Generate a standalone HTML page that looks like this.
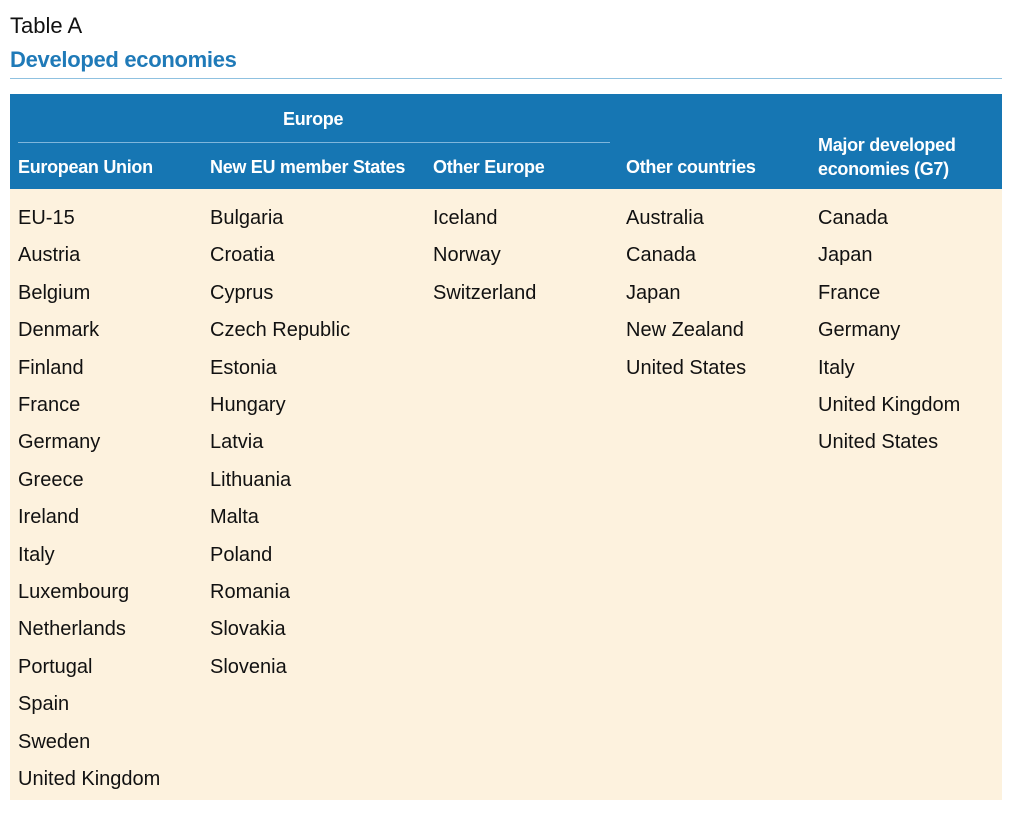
<!DOCTYPE html>
<html><head><meta charset="utf-8">
<style>
html,body{margin:0;padding:0;background:#fff;width:1020px;height:826px;overflow:hidden;font-family:"Liberation Sans",sans-serif;}
.abs{position:absolute;white-space:nowrap;}
#title{left:10px;top:13px;font-size:22px;color:#111;}
#subtitle{left:10px;top:47px;font-size:22px;color:#1f7ab8;font-weight:bold;letter-spacing:-0.3px;}
#rule{left:10px;top:78px;width:992px;height:1px;background:#8fc1e0;}
#header{left:10px;top:94px;width:992px;height:95px;background:#1676b3;}
#body{left:10px;top:189px;width:992px;height:611px;background:#fdf2de;}
.h{color:#fff;font-weight:bold;font-size:18px;letter-spacing:-0.3px;}
#europe-rule{left:18px;top:142px;width:592px;height:1px;background:#7fb6dc;}
.c{font-size:20px;color:#111;line-height:20px;}
</style></head>
<body>
<div class="abs" id="title">Table A</div>
<div class="abs" id="subtitle">Developed economies</div>
<div class="abs" id="rule"></div>
<div class="abs" id="header"></div>
<div class="abs" id="body"></div>
<div class="abs h" style="left:283px;top:109px;">Europe</div>
<div class="abs" id="europe-rule"></div>
<div class="abs h" style="left:18px;top:157px;">European Union</div>
<div class="abs h" style="left:210px;top:157px;">New EU member States</div>
<div class="abs h" style="left:433px;top:157px;">Other Europe</div>
<div class="abs h" style="left:626px;top:157px;">Other countries</div>
<div class="abs h" style="left:818px;top:133px;line-height:24px;">Major developed<br>economies (G7)</div>
<div id="cells"></div>
<script>
const col0 = ["EU-15","Austria","Belgium","Denmark","Finland","France","Germany","Greece","Ireland","Italy","Luxembourg","Netherlands","Portugal","Spain","Sweden","United Kingdom"];
const col1 = ["Bulgaria","Croatia","Cyprus","Czech Republic","Estonia","Hungary","Latvia","Lithuania","Malta","Poland","Romania","Slovakia","Slovenia"];
const col2 = ["Iceland","Norway","Switzerland"];
const col3 = ["Australia","Canada","Japan","New Zealand","United States"];
const col4 = ["Canada","Japan","France","Germany","Italy","United Kingdom","United States"];
const cols = [col0,col1,col2,col3,col4];
const xs = [18,210,433,626,818];
const box = document.getElementById('cells');
cols.forEach((c,ci)=>{
  c.forEach((name,ri)=>{
    const d = document.createElement('div');
    d.className = 'abs c';
    d.style.left = xs[ci]+'px';
    d.style.top = (208 + ri*37.4)+'px';
    d.textContent = name;
    
    
    box.appendChild(d);
  });
});
</script>
</body></html>
